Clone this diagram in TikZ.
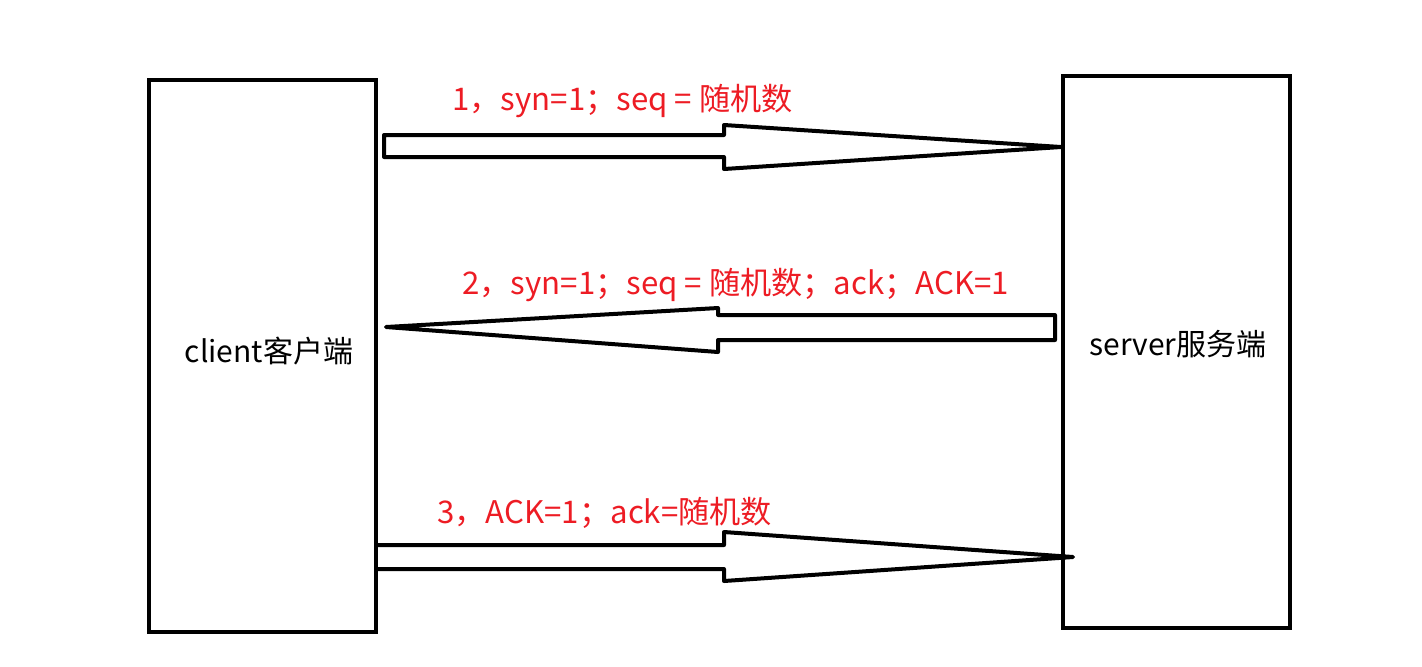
\documentclass[tikz,border=0pt]{standalone}
\usepackage{fontspec}
\setmainfont{Noto Sans CJK SC}
\usepackage{tikz}
\usetikzlibrary{positioning}
\usepackage{xcolor}
\definecolor{paintred}{RGB}{237,28,36}

\tikzset{
  hostbox/.style={draw=black, line width=2pt, minimum width=227*0.5pt,
                  minimum height=552*0.5pt, inner sep=0pt},
  hosttext/.style={inner sep=0pt, font=\fontsize{15}{17}\selectfont},
  blockarrow/.style={draw=black, fill=white, line width=2pt, line join=round},
  steplabel/.style={anchor=west, text=paintred, inner sep=0pt,
                    font=\fontsize{15.6}{18}\selectfont}
}

\begin{document}
\begin{tikzpicture}[x=0.5pt, y=-0.5pt]%
      \useasboundingbox (0,0) rectangle (1422,666);
      \node[hostbox] (client) at (262.5,356) {};
      \node[hostbox] (server) at (1176.5,352) {};
      \node[hosttext] (clientname) at (269,351) {client客户端};
      \node[hosttext] (servername) at (1178,344) {server服务端};
      \coordinate (tip1) at (server.west |- 0,147);
      \coordinate (tip2) at (386,327);
      \coordinate (tip3) at (1073,557);
      \draw[blockarrow] (384,135) -- (724,135) -- (724,125) -- (tip1)
        -- (724,169) -- (724,157) -- (384,157) -- cycle;
      \draw[blockarrow] (1055,315) -- (718,315) -- (718,308) -- (tip2)
        -- (718,352) -- (718,340) -- (1055,340) -- cycle;
      \draw[blockarrow] (client.east |- 0,545) -- (724,545) -- (724,532) -- (tip3)
        -- (724,581) -- (724,569) -- (client.east |- 0,569);
      \node[steplabel] (lab1) at (452,101) {1，syn=1；seq = 随机数};
      \node[steplabel] (lab2) at (462,285) {2，syn=1；seq = 随机数；ack；ACK=1};
      \node[steplabel] (lab3) at (437,513) {3，ACK=1；ack=随机数};
    \end{tikzpicture}
\end{document}
